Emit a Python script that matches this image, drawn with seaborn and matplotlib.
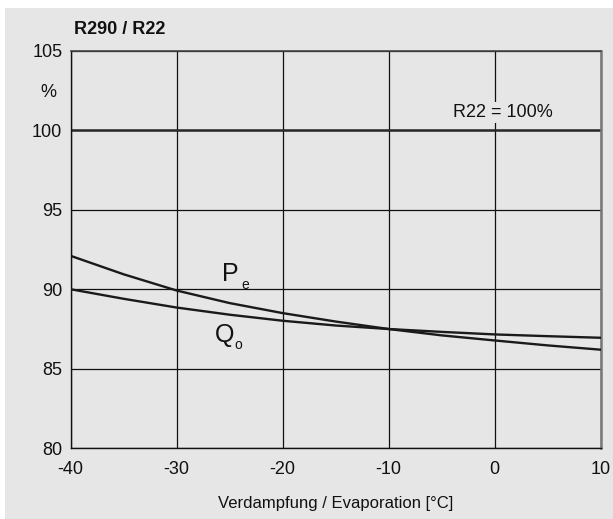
import matplotlib
matplotlib.use("Agg")
import matplotlib.pyplot as plt
from matplotlib.patches import Rectangle
import numpy as np
import pandas as pd
import seaborn as sns

# Evaporation temperature [°C]
temps = [-40, -35, -30, -25, -20, -15, -10, -5, 0, 5, 10]
# Relative values R290 vs R22 [%]
pe_values = [92.1, 90.94, 89.92, 89.13, 88.5, 87.97, 87.5, 87.1, 86.78, 86.47, 86.2]
qo_values = [90.0, 89.4, 88.85, 88.4, 88.02, 87.72, 87.5, 87.32, 87.16, 87.05, 86.95]
x_ticks = [-40, -30, -20, -10, 0, 10]
y_ticks = [80, 85, 90, 95, 100, 105]
reference_level = 100

sns.set_theme(style="white")
plt.rcParams["font.family"] = ["Liberation Sans", "DejaVu Sans"]
plt.rcParams["axes.unicode_minus"] = False

bg = "#e6e6e6"
ink = "#111111"
fig = plt.figure(figsize=(6.13, 5.19), dpi=100, facecolor="white")
fig.patches.append(Rectangle((5 / 613, 0), 1, 1 - 8 / 519, transform=fig.transFigure,
                             facecolor=bg, edgecolor="none", zorder=-10))
ax = fig.add_axes([70.7 / 613, 1 - 448.3 / 519, 530 / 613, (448.3 - 50.7) / 519])
ax.set_facecolor(bg)

df = pd.DataFrame({
    "temp": temps * 2,
    "value": pe_values + qo_values,
    "series": ["Pe"] * len(temps) + ["Qo"] * len(temps),
})
sns.lineplot(data=df, x="temp", y="value", units="series", estimator=None,
             color="#1a1a1a", linewidth=1.7, ax=ax, legend=False, zorder=3)

ax.axhline(reference_level, color="#2a2a2a", linewidth=1.8, zorder=2)

ax.set_xlim(-40, 10)
ax.set_ylim(80, 105)
ax.set_xticks(x_ticks)
ax.set_yticks(y_ticks)
ax.grid(True, color=ink, linewidth=0.9)
ax.set_axisbelow(True)
ax.tick_params(axis="both", length=0, labelsize=13, colors=ink)
ax.tick_params(axis="y", pad=6)
ax.tick_params(axis="x", pad=9)

for side in ["left", "bottom"]:
    ax.spines[side].set_color(ink)
    ax.spines[side].set_linewidth(1.0)
ax.spines["top"].set_color("#444444")
ax.spines["top"].set_linewidth(1.2)
ax.spines["right"].set_color("#777777")
ax.spines["right"].set_linewidth(1.8)

ax.set_xlabel("Verdampfung / Evaporation [°C]", fontsize=12, labelpad=13, color=ink)
ax.set_ylabel("")

fig.text(74 / 613, 1 - 29 / 519, "R290 / R22", fontsize=13, fontweight="bold",
         ha="left", va="center", color=ink)
fig.text(48 / 613, 1 - 92 / 519, "%", fontsize=13, ha="center", va="center", color=ink)

ax.text(0.74, 101.13, "R22 = 100%", fontsize=13, ha="center", va="center", color=ink,
        bbox=dict(facecolor=bg, edgecolor="none", pad=1.5), zorder=4)
ax.text(-24.97, 90.96, "P", fontsize=18, ha="center", va="center", color=ink)
ax.text(-23.56, 90.27, "e", fontsize=10, ha="center", va="center", color=ink)
ax.text(-25.44, 87.13, "Q", fontsize=18, ha="center", va="center", color=ink)
ax.text(-24.22, 86.5, "o", fontsize=10, ha="center", va="center", color=ink)

fig.savefig("out.png", dpi=100, facecolor=fig.get_facecolor())
